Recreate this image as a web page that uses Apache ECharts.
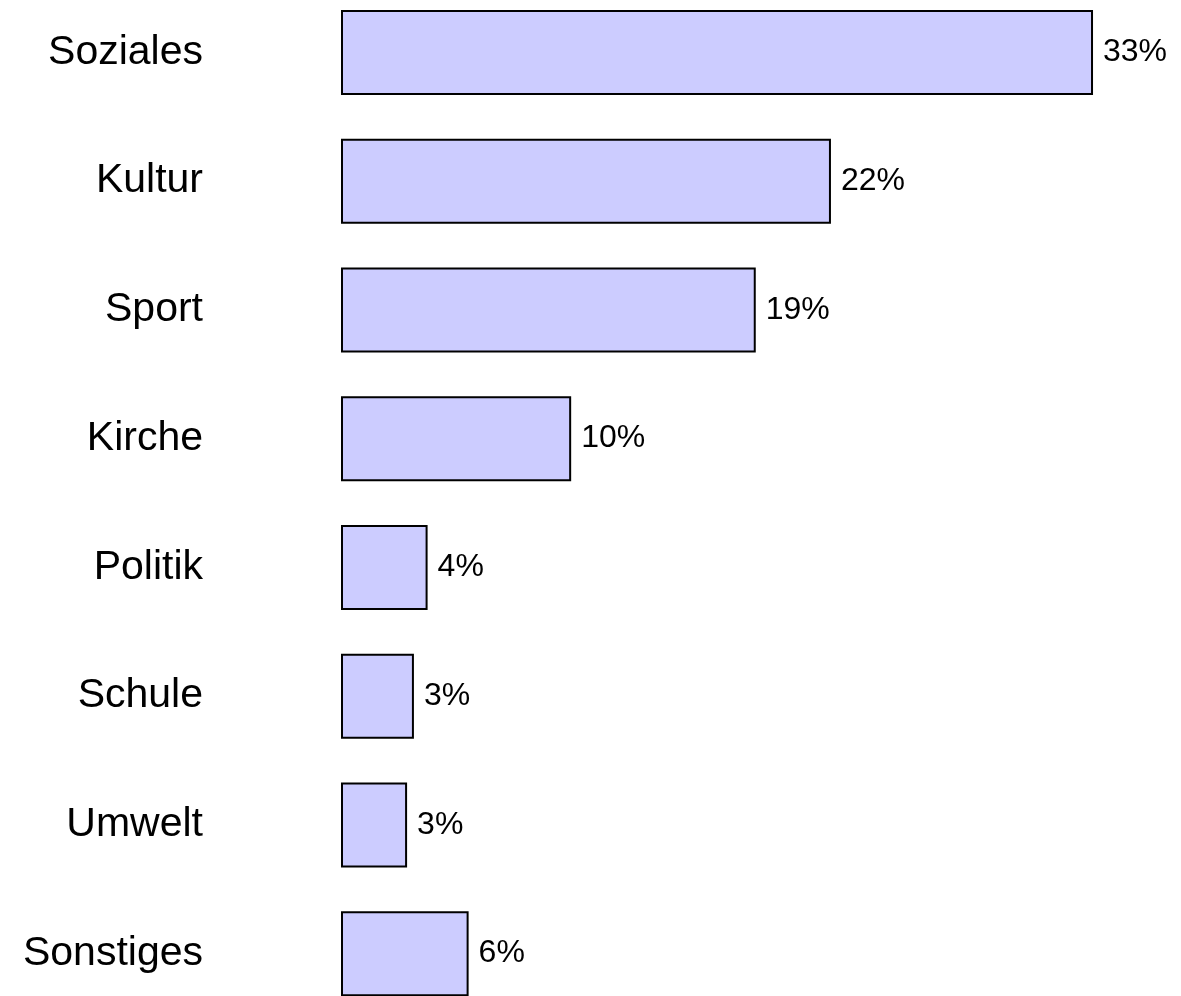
<!DOCTYPE html>
<html>
<head>
<meta charset="utf-8">
<script src="https://cdn.jsdelivr.net/npm/echarts@6/dist/echarts.min.js"></script>
<style>
  html, body { margin: 0; padding: 0; background: #fff; overflow: hidden; height: 996px; }
  /* etwas höher als das Fenster, damit der letzte Balken unten abgeschnitten wird */
  #chart { width: 1181px; height: 1030px; margin-top: -12px; }
</style>
</head>
<body>
<div id="chart"></div>
<script>
// Kategorien von oben nach unten
const categories = ['Soziales', 'Kultur', 'Sport', 'Kirche', 'Politik', 'Schule', 'Umwelt', 'Sonstiges'];
// Balkenlängen
const values = [33, 21.5, 18.2, 10.1, 3.8, 3.2, 2.9, 5.6];
// angezeigte Prozentwerte
const pctLabels = ['33%', '22%', '19%', '10%', '4%', '3%', '3%', '6%'];

const chart = echarts.init(document.getElementById('chart'));

const option = {
  animation: false,
  grid: { left: 341, right: 42.4, top: 0, bottom: 0, containLabel: false },
  xAxis: {
    type: 'value',
    min: 0,
    max: 35,
    show: false
  },
  yAxis: {
    type: 'category',
    inverse: true,
    data: categories,
    axisLine: { show: false },
    axisTick: { show: false },
    axisLabel: {
      margin: 138,
      color: '#000',
      fontFamily: 'Liberation Sans, Arial, sans-serif',
      fontSize: 41,
      padding: [0, 0, 10, 0]
    }
  },
  series: [
    {
      type: 'bar',
      data: values,
      barWidth: 85,
      itemStyle: { color: '#ccccff', borderColor: '#000', borderWidth: 2 },
      label: {
        show: true,
        position: 'right',
        distance: 10,
        color: '#000',
        fontFamily: 'Liberation Sans, Arial, sans-serif',
        fontSize: 32,
        formatter: (p) => pctLabels[p.dataIndex]
      }
    }
  ]
};

chart.setOption(option);
window.onresize = function () {
  chart.resize();
};
</script>
</body>
</html>
